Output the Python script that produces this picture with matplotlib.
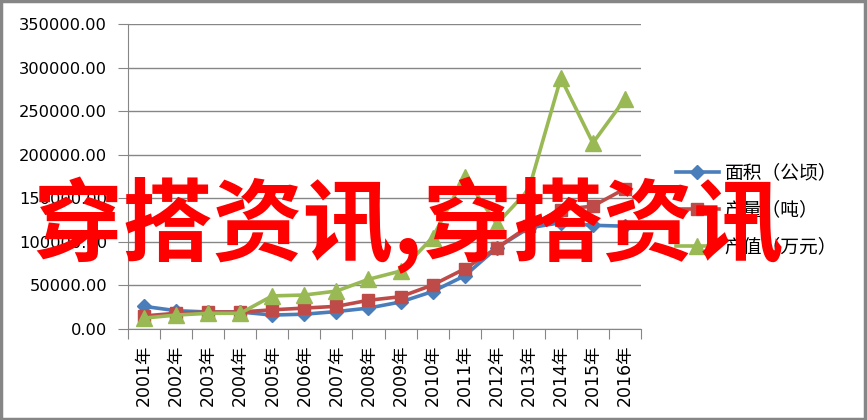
import numpy as np
import matplotlib
matplotlib.use('Agg')
import matplotlib.pyplot as plt
from matplotlib.ticker import FixedLocator, NullFormatter, FuncFormatter

plt.rcParams['font.family'] = ['DejaVu Sans', 'Noto Sans CJK SC']

years = ['2001年', '2002年', '2003年', '2004年', '2005年', '2006年', '2007年', '2008年',
         '2009年', '2010年', '2011年', '2012年', '2013年', '2014年', '2015年', '2016年']
area = [26000, 21000, 19500, 19500, 16000, 17000, 20000, 24000,
        31000, 43000, 61000, 93000, 116000, 122000, 119000, 118000]
output = [15000, 18000, 19500, 19500, 22000, 24000, 26000, 33000,
          37000, 50500, 69000, 93000, 118000, 137000, 141000, 161000]
value = [12500, 16000, 18000, 18000, 38000, 39000, 43500, 57000,
         66500, 105000, 175000, 120500, 160000, 288000, 213500, 264000]
series_names = ['面积（公顷）', '产量（吨）', '产值（万元）']

fig = plt.figure(figsize=(8.67, 4.2), dpi=100)
ax = fig.add_axes([128/867, 1-329/420, (641-128)/867, (329-24)/420])

x = np.arange(len(years))
ax.plot(x, area, color='#4A7EBB', lw=2.6, marker='D', ms=7, label=series_names[0], zorder=3)
ax.plot(x, output, color='#BE4B48', lw=2.6, marker='s', ms=9, label=series_names[1], zorder=4)
ax.plot(x, value, color='#98B954', lw=2.6, marker='^', ms=12, label=series_names[2], zorder=5)

ax.set_xlim(-0.5, len(years) - 0.5)
ax.set_ylim(0, 350000)
ax.set_yticks(np.arange(0, 350001, 50000))
ax.yaxis.set_major_formatter(FuncFormatter(lambda v, p: '%.2f' % v))
ax.grid(axis='y', color='#868686', lw=1)
ax.set_axisbelow(True)

ax.xaxis.set_major_locator(FixedLocator(np.arange(-0.5, len(years), 1)))
ax.xaxis.set_major_formatter(NullFormatter())
ax.xaxis.set_minor_locator(FixedLocator(x))
ax.set_xticklabels(years, minor=True, rotation=90, fontsize=12.5)
ax.tick_params(axis='x', which='minor', length=0, pad=11)
ax.tick_params(axis='x', which='major', length=7, color='#868686')
ax.tick_params(axis='y', length=7, color='#868686', labelsize=11.7, pad=8)

for s in ['top', 'right']:
    ax.spines[s].set_visible(False)
for s in ['left', 'bottom']:
    ax.spines[s].set_color('#868686')

leg = ax.legend(loc='center left', bbox_to_anchor=(1.035, 0.39), frameon=False,
                prop={'family': ['Noto Sans CJK SC', 'DejaVu Sans'], 'size': 13.5},
                handlelength=2.3, labelspacing=0.85, handletextpad=0.3)

# watermark
fig.text(408/867, 1-225/420, '穿搭资讯,穿搭资讯', color='#FF0000', fontsize=65,
         fontweight='bold', ha='center', va='center', zorder=10,
         family=['Noto Sans CJK SC', 'DejaVu Sans'])

# outer border
fig.patches.append(plt.Rectangle((0.001, 0.002), 0.997, 0.995, transform=fig.transFigure,
                                 fill=False, edgecolor='#868686', lw=2.5))

fig.savefig('out.png', dpi=100)
